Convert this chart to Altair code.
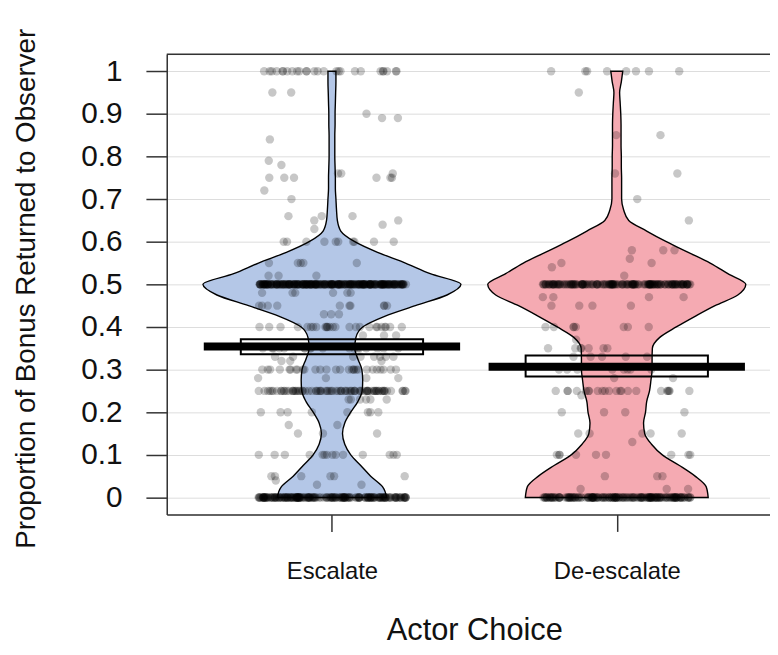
import altair as alt
import pandas as pd

# ---------------- data ----------------
GROUPS = ["Escalate", "De-escalate"]
CENTERS = [1, 2]
COLORS = ["#b4c7e7", "#f5aab2"]

# violin outline: half-widths (x units) at these response levels
LEVELS = [round(i * 0.025, 3) for i in range(41)]
ESC_HALF = [0.192, 0.178, 0.136, 0.101, 0.066, 0.045, 0.037, 0.045, 0.066, 0.091,
            0.106, 0.108, 0.105, 0.091, 0.080, 0.084, 0.108, 0.185, 0.293, 0.404,
            0.453, 0.345, 0.258, 0.160, 0.080, 0.031, 0.019, 0.016, 0.014, 0.012,
            0.012, 0.011, 0.010, 0.010, 0.010, 0.011, 0.011, 0.012, 0.013, 0.014, 0.014]
DE_HALF = [0.321, 0.314, 0.275, 0.220, 0.160, 0.122, 0.098, 0.094, 0.101, 0.105,
           0.115, 0.120, 0.124, 0.124, 0.125, 0.150, 0.209, 0.275, 0.345, 0.425,
           0.453, 0.390, 0.328, 0.251, 0.174, 0.105, 0.042, 0.024, 0.017, 0.017,
           0.017, 0.016, 0.016, 0.015, 0.015, 0.015, 0.014, 0.012, 0.010, 0.016, 0.021]

# individual responses (value, how many)
ESC_VALUES = [0, 0.03, 0.04, 0.05, 0.1, 0.15, 0.17, 0.2, 0.23, 0.25, 0.28, 0.3, 0.32,
              0.33, 0.35, 0.38, 0.4, 0.43, 0.45, 0.48, 0.5, 0.52, 0.55, 0.6, 0.63,
              0.64, 0.65, 0.66, 0.7, 0.72, 0.75, 0.76, 0.78, 0.79, 0.84, 0.89, 0.9,
              0.95, 1.0]
ESC_COUNTS = [190, 2, 1, 6, 14, 3, 2, 8, 6, 80, 4, 28, 3, 8, 18, 3, 26, 3, 10, 6, 260,
              3, 5, 10, 1, 1, 2, 3, 1, 1, 6, 3, 1, 1, 1, 2, 1, 2, 26]
DE_VALUES = [0, 0.02, 0.05, 0.1, 0.13, 0.15, 0.2, 0.24, 0.25, 0.28, 0.3, 0.33, 0.35,
             0.37, 0.4, 0.45, 0.47, 0.5, 0.52, 0.54, 0.55, 0.56, 0.58, 0.65, 0.7,
             0.76, 0.85, 0.95, 1.0]
DE_COUNTS = [170, 3, 3, 9, 1, 5, 4, 1, 22, 2, 8, 5, 7, 1, 8, 4, 4, 170, 1, 1, 2, 1, 3,
             1, 1, 2, 2, 1, 8]

MEANS = [0.354, 0.3065]
CI_LOW = [0.336, 0.284]
CI_HIGH = [0.371, 0.333]

Y_TICKS = [round(i * 0.1, 1) for i in range(11)]

# ---------------- tables ----------------
vrows = []
for g, c, halves in zip(GROUPS, CENTERS, [ESC_HALF, DE_HALF]):
    for v, h in zip(LEVELS, halves):
        vrows.append({"group": g, "center": c, "v": v, "half": h})
vdf = pd.DataFrame(vrows)

prows = []
for g, c, vals, cnts in zip(GROUPS, CENTERS, [ESC_VALUES, DE_VALUES], [ESC_COUNTS, DE_COUNTS]):
    for v, n in zip(vals, cnts):
        prows.append({"group": g, "center": c, "value": v, "n": n})
pdf = pd.DataFrame(prows)

sdf = pd.DataFrame({"group": GROUPS, "center": CENTERS, "mean": MEANS,
                    "lo": CI_LOW, "hi": CI_HIGH})

W, H = 608, 464
FONT = "Liberation Sans"
xscale = alt.Scale(domain=[0.42, 2.538], nice=False, zero=False)
yscale = alt.Scale(domain=[-0.04, 1.04], nice=False, zero=False)

label_expr = " : ".join(
    [f"datum.value == {c} ? '{g}'" for c, g in zip(CENTERS[:-1], GROUPS[:-1])]
    + [f"'{GROUPS[-1]}'"])

x_axis = alt.Axis(values=CENTERS, labelExpr=label_expr, grid=False,
                  tickSize=17, tickColor="#333", tickWidth=1.5,
                  domainColor="#333", domainWidth=1.5,
                  labelFont=FONT, labelFontSize=24, labelColor="#111",
                  labelBaseline="alphabetic", labelPadding=47,
                  title="Actor Choice", titleFont=FONT, titleFontSize=31,
                  titleFontWeight="normal", titleColor="#111",
                  titleBaseline="alphabetic", titleX=310, titleY=126,
                  titleAlign="center")
y_axis = alt.Axis(values=Y_TICKS, format=".1~f", grid=True, gridColor="#dddddd",
                  gridWidth=1, tickSize=21, tickColor="#333", tickWidth=1.5,
                  domainColor="#333", domainWidth=1.5,
                  labelFont=FONT, labelFontSize=30, labelColor="#111", labelPadding=24,
                  title="Proportion of Bonus Returned to Observer", titleFont=FONT,
                  titleFontSize=28, titleFontWeight="normal", titleColor="#111",
                  titleAngle=270, titleBaseline="alphabetic", titleX=-133, titleY=236,
                  titleAlign="center")

violin = alt.Chart(vdf).transform_calculate(
    lo="datum.center - datum.half", hi="datum.center + datum.half"
).mark_area(orient="horizontal", interpolate="monotone", stroke="black",
            strokeWidth=1.4, opacity=1).encode(
    y=alt.Y("v:Q", scale=yscale, axis=y_axis),
    x=alt.X("lo:Q", scale=xscale, axis=x_axis),
    x2="hi:Q",
    fill=alt.Fill("group:N", scale=alt.Scale(domain=GROUPS, range=COLORS), legend=None),
    detail="group:N",
)

points = alt.Chart(pdf).transform_calculate(
    k="sequence(0, datum.n)"
).transform_flatten(["k"]).transform_window(
    idx="row_number()"
).transform_calculate(
    u1="abs(sin(datum.idx * 12.9898 + 0.37) * 43758.5453) % 1",
).transform_calculate(
    px="datum.center + (datum.u1 - 0.5) * 0.52"
).mark_circle(size=72, color="black", opacity=0.22).encode(
    x=alt.X("px:Q", scale=xscale),
    y=alt.Y("value:Q", scale=yscale),
)

box = alt.Chart(sdf).transform_calculate(
    bl="datum.center - 0.32", br="datum.center + 0.32"
).mark_rect(fill="white", fillOpacity=0, stroke="black", strokeWidth=2).encode(
    x=alt.X("bl:Q", scale=xscale), x2="br:Q",
    y=alt.Y("lo:Q", scale=yscale), y2="hi:Q",
)

mean_line = alt.Chart(sdf).transform_calculate(
    ml="datum.center - 0.45", mr="datum.center + 0.45"
).mark_rule(color="black", strokeWidth=8, strokeCap="butt").encode(
    x=alt.X("ml:Q", scale=xscale), x2="mr:Q",
    y=alt.Y("mean:Q", scale=yscale),
)

top_edge = alt.Chart(alt.Data(values=[{}])).mark_rule(
    color="#333", strokeWidth=1.5).encode(
    x=alt.value(0), x2=alt.value(W), y=alt.value(0))

chart = alt.layer(violin, points, box, mean_line, top_edge).properties(
    width=W, height=H,
    padding={"left": 160, "top": 44, "right": 0, "bottom": 131},
    autosize=alt.AutoSizeParams(type="none"),
).configure_view(stroke=None).configure(background="white")

chart.save("out.html", embed_options={"renderer": "svg", "actions": False})
